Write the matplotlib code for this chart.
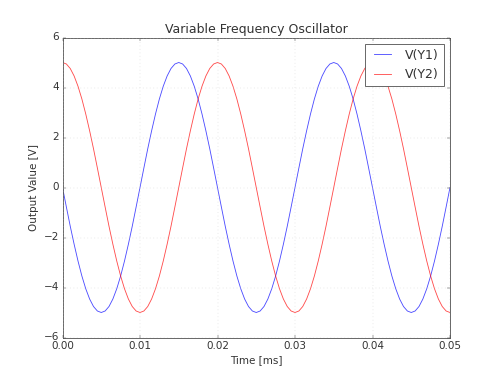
import matplotlib
matplotlib.use("Agg")
import matplotlib.pyplot as plt

# time in ms, sampled every 0.0005
t = [i / 2000 for i in range(101)]

# one full period (0.02 ms) of each output
period_y1 = [0, -0.78, -1.55, -2.27, -2.94, -3.54, -4.05, -4.46, -4.76, -4.94,
             -5, -4.94, -4.76, -4.46, -4.05, -3.54, -2.94, -2.27, -1.55, -0.78,
             0, 0.78, 1.55, 2.27, 2.94, 3.54, 4.05, 4.46, 4.76, 4.94,
             5, 4.94, 4.76, 4.46, 4.05, 3.54, 2.94, 2.27, 1.55, 0.78]
period_y2 = [5, 4.94, 4.76, 4.46, 4.05, 3.54, 2.94, 2.27, 1.55, 0.78,
             0, -0.78, -1.55, -2.27, -2.94, -3.54, -4.05, -4.46, -4.76, -4.94,
             -5, -4.94, -4.76, -4.46, -4.05, -3.54, -2.94, -2.27, -1.55, -0.78,
             0, 0.78, 1.55, 2.27, 2.94, 3.54, 4.05, 4.46, 4.76, 4.94]

v_y1 = period_y1 + period_y1 + period_y1[:21]
v_y2 = period_y2 + period_y2 + period_y2[:21]

plt.style.use("classic")
plt.rcParams["text.color"] = "#333333"
plt.rcParams["axes.labelcolor"] = "#333333"
plt.rcParams["xtick.color"] = "#333333"
plt.rcParams["ytick.color"] = "#333333"
plt.rcParams["axes.edgecolor"] = "#555555"

fig = plt.figure(figsize=(8, 6), dpi=62.5)
ax = fig.add_subplot(111)
ax.plot(t, v_y1, color="blue", alpha=0.7, label="V(Y1)")
ax.plot(t, v_y2, color="red", alpha=0.7, label="V(Y2)")
ax.grid(True, color="#cccccc", linestyle=":")
ax.set_xlim(0, 0.05)
ax.set_ylim(-6, 6)
ax.set_xticks([0, 0.01, 0.02, 0.03, 0.04, 0.05])
ax.set_title("Variable Frequency Oscillator")
ax.set_xlabel("Time [ms]")
ax.set_ylabel("Output Value [V]")
ax.legend(loc="upper right")

fig.savefig("out.png", dpi=62.5)
